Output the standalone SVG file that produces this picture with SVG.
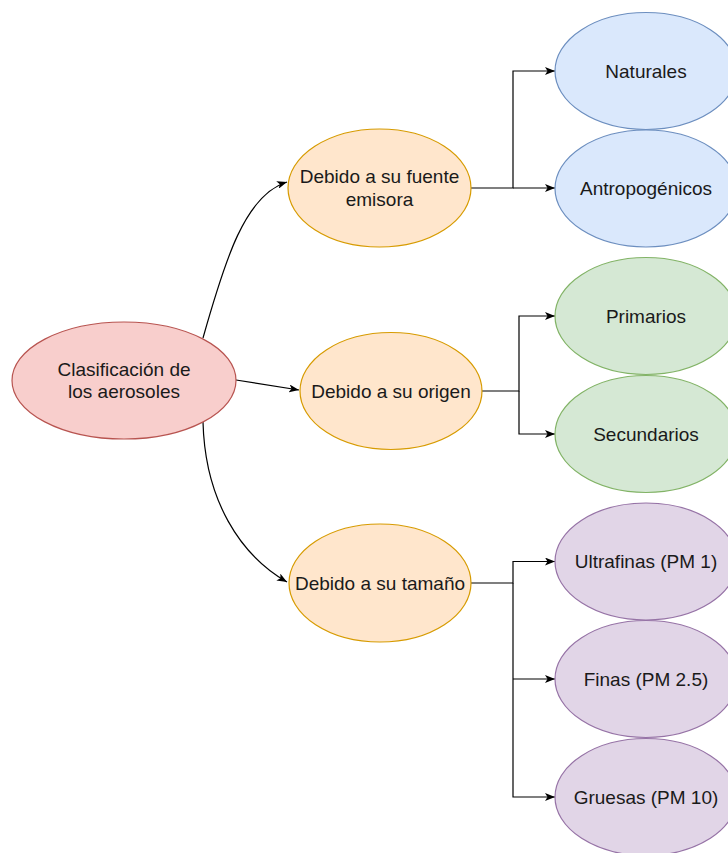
<svg xmlns="http://www.w3.org/2000/svg" width="728" height="853" viewBox="0 0 728 853">
<style>
text{font-family:"Liberation Sans",Arial,sans-serif;font-size:19px;fill:#1a1a1a;text-anchor:middle}
.red{fill:#f8cecc;stroke:#b85450;stroke-width:1.2}
.ora{fill:#ffe6cc;stroke:#d79b00;stroke-width:1.2}
.blu{fill:#dae8fc;stroke:#6c8ebf;stroke-width:1.2}
.grn{fill:#d5e8d4;stroke:#82b366;stroke-width:1.2}
.pur{fill:#e1d5e7;stroke:#9673a6;stroke-width:1.2}
.c{fill:none;stroke:#000;stroke-width:1.2}
</style>
<defs>
<marker id="a" viewBox="0 0 10 8" refX="10" refY="4" markerWidth="10" markerHeight="8" markerUnits="userSpaceOnUse" orient="auto">
<path d="M0,0 L10,4 L0,8 L2.5,4 Z" fill="#000"/>
</marker>
</defs>
<rect width="728" height="853" fill="#fff"/>
<g id="connectors">
<path class="c" d="M203,338 C225,260 245,195 287,182" marker-end="url(#a)"/>
<path class="c" d="M236,380 L299,390" marker-end="url(#a)"/>
<path class="c" d="M203,422 C205,500 240,555 287,582" marker-end="url(#a)"/>
<path class="c" d="M471,188 H513 V71 H555" marker-end="url(#a)"/>
<path class="c" d="M513,188 H555" marker-end="url(#a)"/>
<path class="c" d="M482,391 H519 V316 H555" marker-end="url(#a)"/>
<path class="c" d="M519,391 V434 H555" marker-end="url(#a)"/>
<path class="c" d="M471,583 H513 V561.5 H555" marker-end="url(#a)"/>
<path class="c" d="M513,583 V797 H555" marker-end="url(#a)"/>
<path class="c" d="M513,679 H555" marker-end="url(#a)"/>
</g>
<g id="root"><ellipse class="red" cx="124" cy="380.5" rx="112" ry="58.5"/><text x="124" y="375.5">Clasificación de</text><text x="124" y="398">los aerosoles</text></g>
<g id="fuente"><ellipse class="ora" cx="379.5" cy="188" rx="91.5" ry="59"/><text x="379.5" y="182.5">Debido a su fuente</text><text x="379.5" y="205.5">emisora</text></g>
<g id="origen"><ellipse class="ora" cx="391" cy="391" rx="91" ry="58.5"/><text x="391" y="397.5">Debido a su origen</text></g>
<g id="tamano"><ellipse class="ora" cx="380" cy="583" rx="91" ry="59"/><text x="380" y="589.5">Debido a su tamaño</text></g>
<g id="naturales"><ellipse class="blu" cx="646" cy="71" rx="91" ry="58.5"/><text x="646" y="77.5">Naturales</text></g>
<g id="antropogenicos"><ellipse class="blu" cx="646" cy="188.5" rx="91" ry="58.5"/><text x="646" y="195">Antropogénicos</text></g>
<g id="primarios"><ellipse class="grn" cx="646" cy="316" rx="91" ry="58.5"/><text x="646" y="322.5">Primarios</text></g>
<g id="secundarios"><ellipse class="grn" cx="646" cy="434" rx="91" ry="58.5"/><text x="646" y="440.5">Secundarios</text></g>
<g id="ultrafinas"><ellipse class="pur" cx="646" cy="561.5" rx="91" ry="58.5"/><text x="646" y="568">Ultrafinas (PM 1)</text></g>
<g id="finas"><ellipse class="pur" cx="646" cy="679" rx="91" ry="58.5"/><text x="646" y="685.5">Finas (PM 2.5)</text></g>
<g id="gruesas"><ellipse class="pur" cx="646" cy="797" rx="91" ry="58.5"/><text x="646" y="803.5">Gruesas (PM 10)</text></g>
</svg>
